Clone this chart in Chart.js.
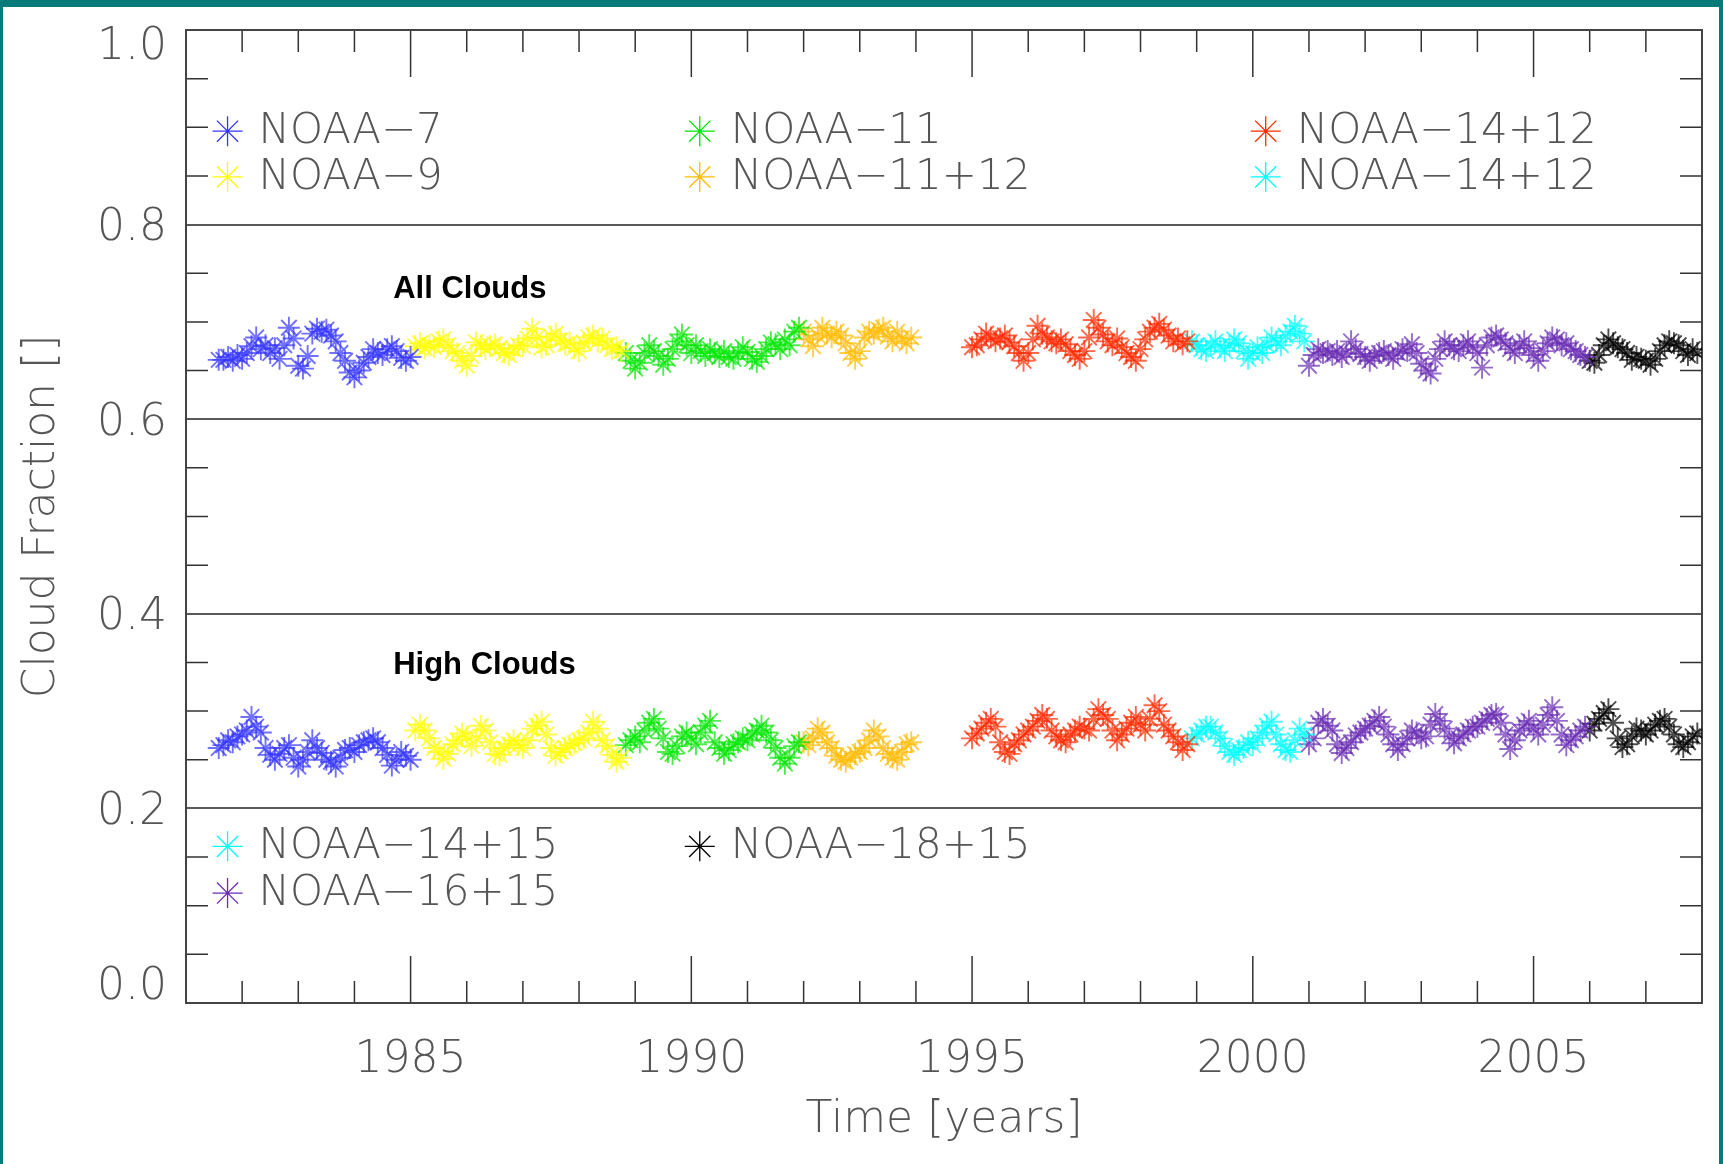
<!DOCTYPE html>
<html>
<head>
<meta charset="utf-8">
<script src="https://cdn.jsdelivr.net/npm/chart.js@4.4.1/dist/chart.umd.min.js"></script>
<style>
  html, body { margin: 0; padding: 0; background: #077a7a; overflow: hidden; }
  #frame { position: absolute; left: 3px; top: 7px; width: 1716px; height: 1157px; background: #fff; }
  #cloudChart { position: absolute; left: 0; top: 0; }
</style>
</head>
<body>
<div id="frame"></div>
<canvas id="cloudChart" width="1723" height="1164"></canvas>
<script>
// Cloud fraction time series, monthly means per satellite

const satellites = ['NOAA−7', 'NOAA−9', 'NOAA−11', 'NOAA−11+12', 'NOAA−14+12', 'NOAA−14+15', 'NOAA−16+15', 'NOAA−18+15'];
// first month of each record (decimal year)
const startYears = [1981.583, 1985.083, 1988.833, 1992.0, 1995.0, 1998.917, 2001.0, 2006.0];
const colors = ['#3535ff', '#ffff00', '#00e600', '#ffbb00', '#ff2a00', '#00ffff', '#6a2cb4', '#000000'];

// All clouds
const noaa7All = [0.661,0.661,0.664,0.660,0.666,0.662,0.668,0.675,0.684,0.672,0.676,0.668,0.673,0.662,0.676,0.694,0.683,0.655,0.652,0.665,0.688,0.693,0.690,0.692,0.686,0.680,0.668,0.660,0.648,0.643,0.650,0.658,0.664,0.672,0.668,0.666,0.672,0.675,0.670,0.663,0.660,0.664];
const noaa9All = [0.675,0.678,0.673,0.676,0.674,0.680,0.682,0.676,0.670,0.668,0.660,0.655,0.665,0.679,0.676,0.672,0.675,0.677,0.673,0.668,0.666,0.672,0.676,0.675,0.683,0.693,0.684,0.674,0.676,0.685,0.688,0.681,0.677,0.679,0.673,0.670,0.678,0.684,0.686,0.680,0.683,0.676,0.672,0.674,0.670];
const noaa11All = [0.668,0.660,0.652,0.658,0.668,0.676,0.670,0.665,0.656,0.662,0.672,0.680,0.687,0.676,0.668,0.676,0.670,0.665,0.672,0.668,0.664,0.670,0.664,0.662,0.668,0.674,0.669,0.662,0.659,0.665,0.672,0.679,0.677,0.672,0.682,0.676,0.690,0.694];
const noaa1112All = [0.690,0.682,0.675,0.686,0.694,0.688,0.684,0.690,0.686,0.678,0.668,0.662,0.670,0.684,0.690,0.688,0.692,0.694,0.685,0.680,0.690,0.683,0.678,0.684];
const noaa1412All = [0.674,0.676,0.682,0.688,0.684,0.680,0.683,0.686,0.679,0.675,0.668,0.660,0.668,0.682,0.696,0.688,0.684,0.680,0.678,0.682,0.677,0.670,0.666,0.662,0.670,0.684,0.702,0.694,0.687,0.680,0.676,0.683,0.674,0.668,0.664,0.660,0.672,0.682,0.690,0.694,0.698,0.692,0.686,0.680,0.683,0.677,0.680];
const noaa1415All = [0.680,0.676,0.672,0.670,0.676,0.680,0.674,0.670,0.676,0.682,0.678,0.670,0.662,0.668,0.674,0.668,0.676,0.684,0.680,0.676,0.686,0.690,0.696,0.688,0.680];
const noaa1615All = [0.655,0.666,0.672,0.668,0.670,0.666,0.670,0.664,0.668,0.680,0.672,0.667,0.664,0.660,0.665,0.668,0.670,0.666,0.662,0.668,0.672,0.670,0.677,0.668,0.657,0.650,0.647,0.662,0.672,0.680,0.676,0.672,0.670,0.676,0.680,0.674,0.668,0.653,0.676,0.684,0.686,0.682,0.678,0.672,0.668,0.676,0.680,0.673,0.666,0.660,0.670,0.678,0.684,0.682,0.676,0.678,0.672,0.670,0.666,0.664];
const noaa1815All = [0.660,0.658,0.666,0.676,0.682,0.678,0.674,0.672,0.668,0.661,0.664,0.662,0.660,0.656,0.662,0.670,0.676,0.680,0.678,0.676,0.670,0.666,0.672,0.668];

// High clouds
const noaa7High = [0.262,0.265,0.270,0.268,0.274,0.276,0.280,0.294,0.284,0.278,0.262,0.255,0.250,0.256,0.262,0.265,0.252,0.243,0.250,0.258,0.270,0.262,0.257,0.250,0.248,0.243,0.252,0.260,0.262,0.258,0.265,0.268,0.270,0.272,0.268,0.262,0.255,0.244,0.250,0.258,0.254,0.250];
const noaa9High = [0.280,0.286,0.280,0.272,0.262,0.258,0.251,0.256,0.266,0.270,0.277,0.274,0.264,0.272,0.285,0.280,0.268,0.256,0.255,0.262,0.266,0.270,0.265,0.262,0.270,0.282,0.285,0.289,0.276,0.262,0.254,0.258,0.262,0.265,0.267,0.270,0.272,0.278,0.289,0.282,0.270,0.264,0.255,0.248,0.252];
const noaa11High = [0.265,0.270,0.274,0.268,0.280,0.288,0.292,0.282,0.272,0.258,0.256,0.264,0.274,0.278,0.272,0.266,0.278,0.285,0.290,0.268,0.262,0.256,0.260,0.266,0.268,0.272,0.270,0.276,0.280,0.285,0.278,0.270,0.262,0.252,0.246,0.252,0.264,0.268];
const noaa1112High = [0.268,0.265,0.272,0.282,0.278,0.268,0.262,0.254,0.250,0.248,0.252,0.256,0.258,0.262,0.270,0.280,0.274,0.262,0.256,0.252,0.250,0.258,0.266,0.268];
const noaa1412High = [0.272,0.277,0.282,0.288,0.292,0.284,0.268,0.258,0.256,0.266,0.270,0.276,0.280,0.284,0.290,0.296,0.292,0.280,0.274,0.270,0.268,0.276,0.280,0.284,0.282,0.280,0.292,0.302,0.296,0.292,0.280,0.270,0.276,0.282,0.288,0.294,0.286,0.280,0.292,0.306,0.300,0.286,0.280,0.274,0.268,0.260,0.266];
const noaa1415High = [0.272,0.276,0.280,0.284,0.284,0.278,0.272,0.264,0.258,0.255,0.260,0.262,0.268,0.265,0.272,0.278,0.285,0.289,0.276,0.266,0.260,0.258,0.270,0.282,0.276];
const noaa1615High = [0.266,0.272,0.288,0.292,0.285,0.280,0.266,0.257,0.262,0.268,0.275,0.278,0.282,0.285,0.290,0.294,0.284,0.276,0.266,0.260,0.266,0.272,0.280,0.278,0.272,0.274,0.286,0.297,0.290,0.282,0.274,0.267,0.272,0.276,0.280,0.284,0.284,0.288,0.292,0.296,0.297,0.288,0.276,0.261,0.270,0.280,0.286,0.290,0.282,0.276,0.286,0.296,0.304,0.290,0.276,0.265,0.270,0.274,0.280,0.284];
const noaa1815High = [0.280,0.287,0.292,0.298,0.302,0.288,0.272,0.263,0.266,0.274,0.282,0.280,0.276,0.280,0.286,0.290,0.292,0.284,0.276,0.266,0.263,0.268,0.274,0.277];

const allClouds = [noaa7All, noaa9All, noaa11All, noaa1112All, noaa1412All, noaa1415All, noaa1615All, noaa1815All];
const highClouds = [noaa7High, noaa9High, noaa11High, noaa1112High, noaa1412High, noaa1415High, noaa1615High, noaa1815High];

// y tick labels
const yTickLabels = [0.0, 0.2, 0.4, 0.6, 0.8, 1.0];

// legend entries (top box lists the cyan record as NOAA-14+12, as in the original)
const legendTopLabels = ['NOAA−7', 'NOAA−9', 'NOAA−11', 'NOAA−11+12', 'NOAA−14+12', 'NOAA−14+12'];
const legendTopColors = [0, 1, 2, 3, 4, 5];
const legendBottomLabels = ['NOAA−14+15', 'NOAA−16+15', 'NOAA−18+15'];
const legendBottomColors = [5, 6, 7];

const textFont = '"DejaVu Sans", "Liberation Sans", sans-serif';
const textColor = '#555';

function withAlpha(hex, a) {
    const n = parseInt(hex.slice(1), 16);
    return `rgba(${(n >> 16) & 255},${(n >> 8) & 255},${n & 255},${a})`;
}

function monthly(values, start) {
    return values.map((v, i) => ({ x: start + i / 12, y: v }));
}

const datasets = [];
[allClouds, highClouds].forEach((group, g) => {
    group.forEach((values, i) => {
        datasets.push({
            label: satellites[i] + (g === 0 ? ' all' : ' high'),
            data: monthly(values, startYears[i]),
            pointStyle: 'star',
            pointRadius: 11,
            pointBorderWidth: 1.9,
            borderColor: withAlpha(colors[i], 0.7),
            backgroundColor: withAlpha(colors[i], 0.7),
            showLine: false
        });
    });
});

function drawStar(ctx, x, y, r, color) {
    ctx.save();
    ctx.strokeStyle = color;
    ctx.lineWidth = 1.3;
    ctx.beginPath();
    for (let k = 0; k < 4; k++) {
        const a = k * Math.PI / 4;
        ctx.moveTo(x - r * Math.cos(a), y - r * Math.sin(a));
        ctx.lineTo(x + r * Math.cos(a), y + r * Math.sin(a));
    }
    ctx.stroke();
    ctx.restore();
}

// frame, inward tick marks, y labels, legends and panel labels
const decorations = {
    id: 'decorations',
    beforeDatasetsDraw(chart) {
        const { ctx, chartArea: a, scales: { x, y } } = chart;
        ctx.save();
        ctx.strokeStyle = '#333';
        ctx.lineWidth = 1.5;
        ctx.beginPath();
        for (let yr = 1982; yr < 2008; yr++) {
            const px = x.getPixelForValue(yr);
            const len = yr % 5 === 0 ? 47 : 22;
            ctx.moveTo(px, a.top); ctx.lineTo(px, a.top + len);
            ctx.moveTo(px, a.bottom); ctx.lineTo(px, a.bottom - len);
        }
        for (let k = 1; k < 20; k++) {
            if (k % 4 === 0) continue;
            const py = y.getPixelForValue(k * 0.05);
            ctx.moveTo(a.left, py); ctx.lineTo(a.left + 22, py);
            ctx.moveTo(a.right, py); ctx.lineTo(a.right - 22, py);
        }
        ctx.stroke();
        ctx.strokeStyle = '#444';
        ctx.lineWidth = 2;
        ctx.strokeRect(a.left, a.top, a.width, a.height);

        // y labels kept inside the axis range, like the original plot
        ctx.font = `200 44px ${textFont}`;
        ctx.fillStyle = textColor;
        ctx.textAlign = 'right';
        ctx.textBaseline = 'middle';
        yTickLabels.forEach((v) => {
            const py = Math.min(Math.max(y.getPixelForValue(v) + 4, a.top + 18), a.bottom - 15);
            ctx.fillText(v.toFixed(1), a.left - 19, py);
        });
        ctx.restore();
    },
    afterDatasetsDraw(chart) {
        const { ctx, scales: { x, y } } = chart;
        const cols = [1981.74, 1990.15, 2000.23];
        ctx.save();
        ctx.font = `200 42px ${textFont}`;
        ctx.fillStyle = textColor;
        ctx.textBaseline = 'middle';
        const put = (labels, colorIdx, rows) => {
            labels.forEach((lab, i) => {
                const px = x.getPixelForValue(cols[Math.floor(i / 2)]);
                const py = y.getPixelForValue(rows[i % 2]);
                drawStar(ctx, px, py, 15, colors[colorIdx[i]]);
                ctx.fillText(lab, px + 31, py + 1);
            });
        };
        put(legendTopLabels, legendTopColors, [0.896, 0.849]);
        put(legendBottomLabels, legendBottomColors, [0.161, 0.113]);

        ctx.font = `bold 31px "Liberation Sans", Arial, sans-serif`;
        ctx.fillStyle = '#000';
        ctx.fillText('All Clouds', x.getPixelForValue(1984.69), y.getPixelForValue(0.733));
        ctx.fillText('High Clouds', x.getPixelForValue(1984.69), y.getPixelForValue(0.347));
        ctx.restore();
    }
};

const ctx = document.getElementById('cloudChart').getContext('2d');

const cloudChart = new Chart(ctx, {
    type: 'scatter',
    data: { datasets: datasets },
    options: {
        responsive: false,
        animation: false,
        events: [],
        layout: { padding: { top: 29, right: 21, left: 0, bottom: 0 } },
        plugins: {
            legend: { display: false },
            tooltip: { enabled: false }
        },
        scales: {
            x: {
                type: 'linear',
                min: 1981,
                max: 2008,
                afterFit: (s) => { s.height = 161; },
                grid: { display: false, drawTicks: false },
                border: { display: false },
                ticks: {
                    stepSize: 1,
                    autoSkip: false,
                    maxRotation: 0,
                    padding: 3,
                    color: textColor,
                    font: { family: textFont, size: 44, weight: '200', lineHeight: 2.5 },
                    callback: (v) => (v % 5 === 0 ? String(v) : '')
                },
                title: {
                    display: true,
                    text: 'Time [years]',
                    color: textColor,
                    font: { family: textFont, size: 44, weight: '200' },
                    padding: { top: 0, bottom: 17 }
                }
            },
            y: {
                min: 0,
                max: 1,
                afterFit: (s) => { s.width = 186; },
                grid: {
                    drawTicks: false,
                    lineWidth: 2,
                    color: (c) => {
                        const v = c.tick.value * 5;
                        const major = Math.abs(v - Math.round(v)) < 1e-6;
                        return major && v > 0.5 && v < 4.5 ? '#5a5a5a' : 'rgba(0,0,0,0)';
                    }
                },
                border: { display: false },
                ticks: {
                    stepSize: 0.05,
                    autoSkip: false,
                    padding: 19,
                    font: { family: textFont, size: 44, weight: '200', lineHeight: 0.5 },
                    callback: () => ''
                },
                title: {
                    display: true,
                    text: 'Cloud Fraction []',
                    color: textColor,
                    font: { family: textFont, size: 44, weight: '200' },
                    padding: { top: 16, bottom: 0 }
                }
            }
        }
    },
    plugins: [decorations]
});
</script>
</body>
</html>
